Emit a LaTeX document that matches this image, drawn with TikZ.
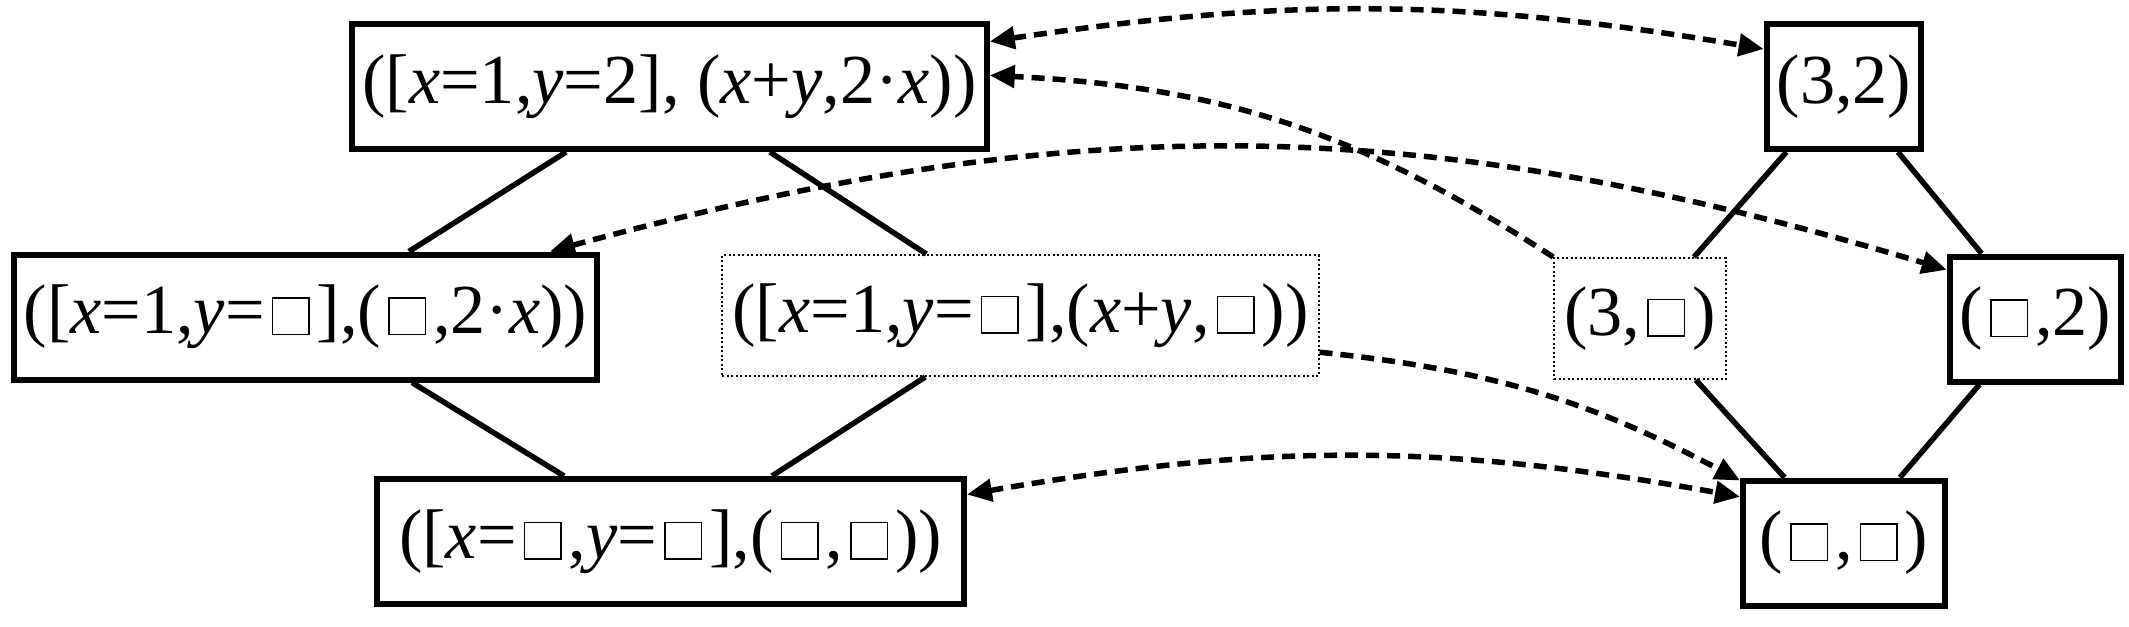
\documentclass[tikz,border=0pt]{standalone}
\usepackage{fontspec}
\setmainfont{Liberation Serif}
\usetikzlibrary{arrows.meta}
\newcommand{\emptyslot}{\kern0.1em{\setlength{\fboxsep}{0pt}\setlength{\fboxrule}{0.4pt}\fbox{\rule{0pt}{0.5em}\rule{0.5em}{0pt}}}\kern0.1em}

\begin{document}
\begin{tikzpicture}[
    font=\fontsize{20}{24}\selectfont,
    box/.style={draw=black, line width=0.6mm, inner xsep=1mm, minimum height=12.5mm},
    dotbox/.style={draw=black, line width=0.2mm, dash pattern=on 0.2mm off 0.25mm, inner xsep=1mm, minimum height=12.1mm},
    edge/.style={line width=0.55mm},
    arr/.style={-{Triangle[length=2.5mm,width=2.2mm]}, line width=0.55mm, dash pattern=on 1.3mm off 0.8mm},
    biarr/.style={arr, {Triangle[length=2.5mm,width=2.2mm]}-{Triangle[length=2.5mm,width=2.2mm]}}
]
\useasboundingbox (0,0) rectangle (21.29,-6.26);

% symbolic lattice
\node[box] (sym) at (6.695,-0.865) {([\textit{x}=1,\textit{y}=2], (\textit{x}+\textit{y},2·\textit{x}))};
\node[box] (symL) at (3.055,-3.17) {([\textit{x}=1,\textit{y}=\emptyslot],(\emptyslot,2·\textit{x}))};
\node[dotbox] (symR) at (10.205,-3.155) {([\textit{x}=1,\textit{y}=\emptyslot],(\textit{x}+\textit{y},\emptyslot))};
\node[box, minimum width=5.87cm] (symBot) at (6.705,-5.415) {([\textit{x}=\emptyslot,\textit{y}=\emptyslot],(\emptyslot,\emptyslot))};

% value lattice
\node[box] (val) at (18.44,-0.865) {(3,2)};
\node[dotbox] (valL) at (16.40,-3.185) {(3,\emptyslot)};
\node[box] (valR) at (20.355,-3.19) {(\emptyslot,2)};
\node[box, minimum width=2.02cm] (valBot) at (18.44,-5.43) {(\emptyslot,\emptyslot)};

\draw[edge] (sym) -- (symL);
\draw[edge] (sym) -- (symR);
\draw[edge] (symL) -- (symBot);
\draw[edge] (symR) -- (symBot);
\draw[edge] (val) -- (valL);
\draw[edge] (val) -- (valR);
\draw[edge] (valL) -- (valBot);
\draw[edge] (valR) -- (valBot);

% correspondences
\draw[biarr] (sym.8) to[bend left=9] (val.155);
\draw[arr] (valL.north west) to[bend right=15] (sym.2);
\draw[biarr] (symL.15) to[bend left=16] (valR.151);
\draw[arr] (symR.353.5) to[bend left=11] (valBot.149);
\draw[biarr] (symBot.9) to[bend left=10] (valBot.156);

\end{tikzpicture}
\end{document}
